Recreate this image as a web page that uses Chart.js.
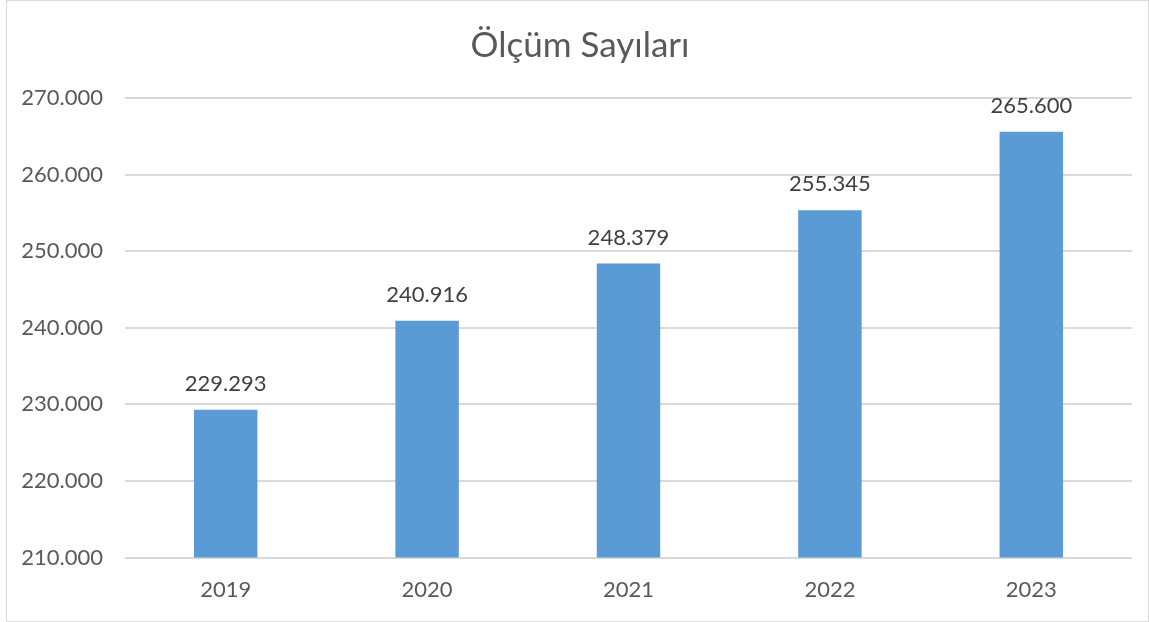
<!DOCTYPE html>
<html>
<head>
<meta charset="utf-8">
<script src="https://cdn.jsdelivr.net/npm/chart.js@4.4.0/dist/chart.umd.min.js"></script>
<style>
    html, body { margin: 0; padding: 0; background: #fff; }
    #wrap { position: relative; width: 1149px; height: 622px; }
    #frame {
        position: absolute; left: 6px; top: 0; width: 1141px; height: 620px;
        border: 1px solid #d9d9d9; box-sizing: content-box;
    }
    #c { position: absolute; left: 0; top: 0; }
</style>
</head>
<body>
<div id="wrap">
    <div id="frame"></div>
    <canvas id="c" width="1149" height="622"></canvas>
</div>
<script>
// --- DATA ---
const years = ['2019', '2020', '2021', '2022', '2023'];
const counts = [229293, 240916, 248379, 255345, 265600];
const chartTitle = 'Ölçüm Sayıları';

const FONT = 'Lato, "Open Sans", sans-serif';

// dotted thousands, e.g. 229.293
function fmt(n) {
    return n.toString().replace(/\B(?=(\d{3})+(?!\d))/g, '.');
}

// --- VALUE LABELS + TITLE ---
// title is centred on the framed box, not on the plot
const overlay = {
    id: 'overlay',
    afterDraw(chart) {
        const ctx = chart.ctx;
        const meta = chart.getDatasetMeta(0);
        ctx.save();
        ctx.textAlign = 'center';

        ctx.font = '35px ' + FONT;
        ctx.fillStyle = '#595959';
        ctx.textBaseline = 'middle';
        ctx.fillText(chartTitle, 580, 46);

        ctx.font = '22px ' + FONT;
        ctx.fillStyle = '#404040';
        ctx.textBaseline = 'alphabetic';
        meta.data.forEach((bar, i) => {
            ctx.fillText(fmt(counts[i]), bar.x, bar.y - 19);
        });
        ctx.restore();
    }
};

new Chart(document.getElementById('c'), {
    type: 'bar',
    data: {
        labels: years,
        datasets: [{
            data: counts,
            backgroundColor: '#5b9bd5',
            borderWidth: 0,
            categoryPercentage: 1,
            barPercentage: 0.315
        }]
    },
    options: {
        responsive: false,
        animation: false,
        layout: { padding: { left: 0, right: 17, top: 98, bottom: 0 } },
        plugins: {
            legend: { display: false },
            tooltip: { enabled: false },
            title: { display: false }
        },
        scales: {
            x: {
                grid: { display: false, drawTicks: false },
                border: { display: false },
                ticks: {
                    color: '#595959',
                    font: { family: FONT, size: 22 },
                    padding: 19
                }
            },
            y: {
                min: 210000,
                max: 270000,
                afterFit(scale) { scale.width = 125; },
                grid: { color: '#d9d9d9', lineWidth: 2, drawTicks: false },
                border: { display: false },
                ticks: {
                    stepSize: 10000,
                    color: '#595959',
                    font: { family: FONT, size: 22 },
                    padding: 22,
                    callback: v => fmt(v)
                }
            }
        }
    },
    plugins: [overlay]
});
</script>
</body>
</html>
